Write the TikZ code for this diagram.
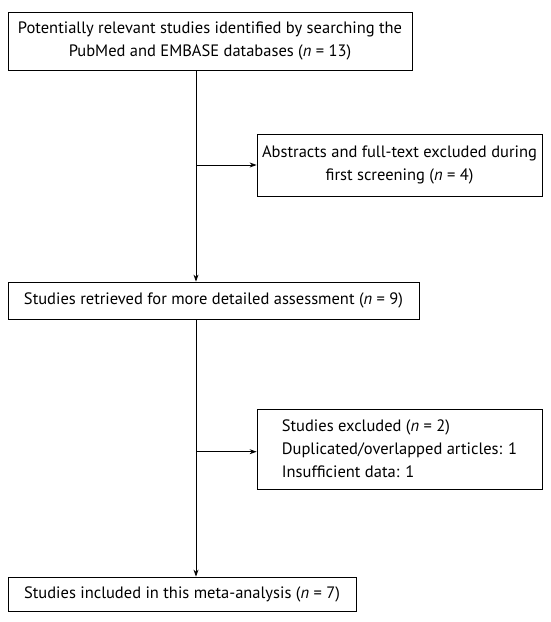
\documentclass[tikz,border=0pt]{standalone}
\usepackage{fontspec}
\setmainfont{PT Sans}
\usepackage{tikz}
\usetikzlibrary{positioning, arrows.meta}

\tikzset{
    box/.style={draw, rectangle, inner sep=0pt, align=center, line width=0.8pt,
        font=\fontsize{16.5}{23}\selectfont},
    flow/.style={-{Stealth[length=7pt, width=5pt]}, line width=0.8pt}
}

\begin{document}
\begin{tikzpicture}[x=1pt, y=1pt]
    \useasboundingbox (0,0) rectangle (551,-622);

    % Main boxes
    \path
    (210, -41) node[box, minimum width=404pt, minimum height=58pt] (search)
        {Potentially relevant studies identified by searching the\\PubMed and EMBASE databases (\textit{n} = 13)}
    (213.5, -300.5) node[box, minimum width=411pt, minimum height=37pt] (retrieved)
        {Studies retrieved for more detailed assessment (\textit{n} = 9)}
    (182, -594) node[box, minimum width=348pt, minimum height=34pt] (included)
        {Studies included in this meta-analysis (\textit{n} = 7)}
    ;

    % Exclusion boxes
    \path
    (399.5, -165) node[box, minimum width=285pt, minimum height=62pt] (screen)
        {Abstracts and full-text excluded during\\first screening (\textit{n} = 4)}
    (399.5, -449) node[box, align=left, minimum width=285pt, minimum height=80pt] (excluded)
        {Studies excluded (\textit{n} = 2)\\Duplicated/overlapped articles: 1\\Insufficient data: 1}
    ;

    % Branch points on the main line
    \coordinate (b1) at (196, -165);
    \coordinate (b2) at (196, -451.7);

    % Main flow
    \draw[flow] (search.south -| b1) -- (retrieved.north -| b1);
    \draw[flow] (retrieved.south -| b2) -- (included.north -| b2);

    % Exclusions
    \draw[flow] (b1) -- (b1 -| screen.west);
    \draw[flow] (b2) -- (b2 -| excluded.west);

\end{tikzpicture}
\end{document}
